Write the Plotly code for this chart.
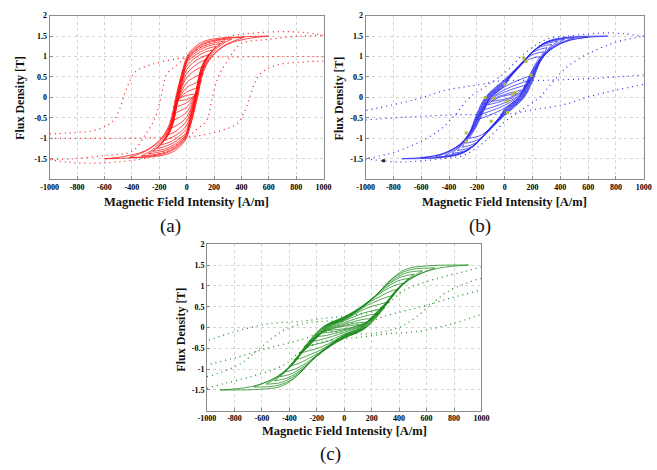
import plotly.graph_objects as go

# Descending branches (H [A/m], B [T]) of each loop.
# The ascending branch is the point reflection (H, B) -> (-H, -B).
LOOPS_A = [
    [(600, 1.50), (400, 1.48), (180, 1.42), (90, 1.31), (10, 1.05), (-25, 0.72), (-80, 0.0), (-120, -0.6), (-185, -1.0), (-300, -1.3), (-450, -1.44), (-600, -1.50)],
    [(420, 1.47), (250, 1.43), (120, 1.32), (20, 1.06), (-25, 0.70), (-75, 0.0), (-115, -0.62), (-180, -1.0), (-280, -1.28), (-420, -1.47)],
    [(330, 1.43), (200, 1.38), (100, 1.26), (15, 1.0), (-25, 0.65), (-72, 0.0), (-110, -0.62), (-170, -1.0), (-250, -1.28), (-330, -1.43)],
    [(280, 1.38), (180, 1.32), (90, 1.20), (10, 0.95), (-25, 0.60), (-70, 0.0), (-108, -0.62), (-160, -1.0), (-220, -1.24), (-280, -1.38)],
    [(245, 1.32), (160, 1.26), (80, 1.13), (5, 0.90), (-25, 0.55), (-68, 0.0), (-105, -0.62), (-150, -0.98), (-200, -1.18), (-245, -1.32)],
    [(215, 1.25), (140, 1.18), (70, 1.05), (0, 0.84), (-28, 0.50), (-66, 0.0), (-100, -0.60), (-140, -0.95), (-180, -1.12), (-215, -1.25)],
    [(190, 1.16), (120, 1.09), (60, 0.96), (0, 0.76), (-30, 0.45), (-64, 0.0), (-95, -0.58), (-130, -0.90), (-160, -1.04), (-190, -1.16)],
    [(170, 1.06), (110, 0.98), (50, 0.86), (0, 0.68), (-30, 0.40), (-62, 0.0), (-92, -0.55), (-120, -0.82), (-145, -0.95), (-170, -1.06)],
    [(150, 0.93), (90, 0.85), (40, 0.72), (0, 0.58), (-30, 0.33), (-60, 0.0), (-90, -0.50), (-115, -0.75), (-150, -0.93)],
    [(135, 0.78), (70, 0.68), (0, 0.48), (-58, 0.0), (-88, -0.42), (-110, -0.62), (-135, -0.78)],
    [(120, 0.60), (60, 0.50), (0, 0.36), (-55, 0.0), (-90, -0.36), (-120, -0.60)],
    [(108, 0.42), (50, 0.33), (0, 0.24), (-50, 0.0), (-108, -0.42)],
    [(97, 0.25), (40, 0.19), (0, 0.13), (-45, 0.0), (-97, -0.25)],
    [(88, 0.10), (30, 0.07), (0, 0.05), (-40, 0.0), (-88, -0.10)],
]
DOTS_A = [
    [(1000, 1.52), (850, 1.59), (700, 1.61), (550, 1.59), (420, 1.55), (300, 1.48), (150, 1.30), (0, 1.0), (-60, 0.82), (-148, 0.55), (-183, 0.06), (-231, -0.51), (-302, -0.91), (-396, -1.31), (-600, -1.42), (-834, -1.50), (-1000, -1.52)],
    [(1000, 1.0), (600, 1.0), (231, 0.99), (53, 0.99), (-65, 0.95), (-231, 0.83), (-373, 0.63), (-421, 0.35), (-456, 0.06), (-491, -0.30), (-538, -0.58), (-656, -0.79), (-870, -0.87), (-1000, -0.89)],
]

LOOPS_B = [
    [(740, 1.50), (450, 1.47), (300, 1.36), (190, 1.07), (60, 0.63), (0, 0.44), (-140, 0.0), (-200, -0.40), (-260, -0.90), (-330, -1.17), (-470, -1.40), (-740, -1.50)],
    [(600, 1.48), (400, 1.44), (280, 1.32), (180, 1.04), (55, 0.61), (0, 0.42), (-135, 0.0), (-195, -0.40), (-255, -0.88), (-320, -1.14), (-440, -1.37), (-600, -1.48)],
    [(500, 1.46), (350, 1.40), (260, 1.28), (170, 1.0), (50, 0.58), (0, 0.40), (-130, 0.0), (-190, -0.40), (-250, -0.86), (-310, -1.12), (-400, -1.33), (-500, -1.46)],
    [(430, 1.42), (320, 1.36), (240, 1.23), (160, 0.96), (45, 0.56), (0, 0.38), (-125, 0.0), (-185, -0.40), (-245, -0.85), (-300, -1.10), (-360, -1.28), (-430, -1.42)],
    [(380, 1.37), (290, 1.31), (220, 1.18), (150, 0.92), (40, 0.53), (0, 0.36), (-120, 0.0), (-180, -0.40), (-240, -0.83), (-290, -1.07), (-330, -1.22), (-380, -1.37)],
    [(340, 1.30), (260, 1.24), (200, 1.12), (140, 0.88), (35, 0.50), (0, 0.34), (-115, 0.0), (-175, -0.40), (-235, -0.82), (-280, -1.04), (-340, -1.30)],
    [(305, 1.22), (230, 1.15), (180, 1.05), (130, 0.84), (30, 0.47), (0, 0.32), (-110, 0.0), (-170, -0.40), (-230, -0.80), (-270, -1.0), (-305, -1.22)],
    [(280, 1.12), (210, 1.06), (160, 0.96), (120, 0.80), (25, 0.44), (0, 0.30), (-105, 0.0), (-165, -0.40), (-220, -0.78), (-255, -0.95), (-280, -1.12)],
    [(255, 1.0), (190, 0.95), (140, 0.86), (25, 0.42), (0, 0.28), (-100, 0.0), (-160, -0.40), (-210, -0.75), (-255, -1.0)],
    [(205, 0.55), (120, 0.45), (0, 0.26), (-100, 0.0), (-160, -0.30), (-205, -0.55)],
    [(180, 0.42), (100, 0.33), (0, 0.19), (-90, 0.0), (-180, -0.42)],
    [(150, 0.30), (80, 0.23), (0, 0.13), (-80, 0.0), (-150, -0.30)],
    [(120, 0.18), (60, 0.13), (0, 0.07), (-60, 0.0), (-120, -0.18)],
    [(95, 0.10), (0, 0.04), (-40, 0.0), (-95, -0.10)],
]
DOTS_B = [
    [(1000, 1.50), (850, 1.56), (720, 1.58), (600, 1.55), (450, 1.50), (300, 1.42), (150, 1.10), (0, 0.60), (-100, 0.35), (-250, 0.0), (-350, -0.40), (-450, -0.75), (-550, -0.98), (-650, -1.15), (-800, -1.35), (-1000, -1.50)],
    [(1000, 0.55), (652, 0.47), (302, 0.42), (185, 0.42), (-45, 0.40), (-185, 0.31), (-418, 0.18), (-652, -0.06), (-1000, -0.32)],
]
MARK_B_H = [137, 153, 190, 0, 55, 75, 20, 20, -140, -78, -97, -277, -277]
MARK_B_B = [0.96, 0.88, 0.54, 0.33, 0.08, 0.12, -0.09, -0.37, 0.0, -0.02, -0.58, -0.87, -1.07]
END_B_H = [-870]
END_B_B = [-1.55]

LOOPS_C = [
    [(905, 1.50), (600, 1.48), (450, 1.40), (340, 1.15), (240, 0.80), (110, 0.47), (0, 0.26), (-150, 0.03), (-250, -0.30), (-330, -0.65), (-420, -1.0), (-520, -1.24), (-680, -1.42), (-905, -1.50)],
    [(660, 1.43), (500, 1.40), (410, 1.30), (320, 1.08), (230, 0.77), (105, 0.45), (0, 0.25), (-145, 0.03), (-245, -0.30), (-325, -0.64), (-410, -0.98), (-500, -1.20), (-660, -1.43)],
    [(570, 1.36), (460, 1.32), (380, 1.20), (300, 1.0), (220, 0.74), (100, 0.43), (0, 0.24), (-140, 0.03), (-240, -0.30), (-320, -0.63), (-400, -0.96), (-480, -1.18), (-570, -1.36)],
    [(510, 1.28), (420, 1.22), (350, 1.10), (280, 0.93), (210, 0.71), (95, 0.41), (0, 0.23), (-135, 0.03), (-235, -0.30), (-315, -0.62), (-390, -0.93), (-450, -1.12), (-510, -1.28)],
    [(470, 1.18), (390, 1.12), (325, 1.0), (260, 0.85), (200, 0.68), (90, 0.40), (0, 0.22), (-130, 0.03), (-230, -0.30), (-310, -0.60), (-380, -0.90), (-430, -1.05), (-470, -1.18)],
    [(435, 1.07), (360, 1.0), (300, 0.90), (245, 0.78), (190, 0.64), (85, 0.38), (0, 0.21), (-125, 0.03), (-225, -0.30), (-305, -0.60), (-370, -0.87), (-435, -1.07)],
    [(400, 0.93), (330, 0.86), (275, 0.77), (180, 0.60), (80, 0.36), (0, 0.20), (-120, 0.03), (-220, -0.30), (-300, -0.58), (-355, -0.78), (-400, -0.93)],
    [(365, 0.78), (300, 0.72), (250, 0.65), (170, 0.54), (75, 0.34), (0, 0.19), (-115, 0.03), (-215, -0.30), (-290, -0.55), (-365, -0.78)],
    [(330, 0.62), (260, 0.56), (160, 0.46), (70, 0.31), (0, 0.18), (-110, 0.02), (-210, -0.28), (-280, -0.48), (-330, -0.62)],
    [(295, 0.47), (220, 0.41), (140, 0.35), (0, 0.16), (-110, 0.01), (-200, -0.22), (-295, -0.47)],
    [(255, 0.34), (180, 0.30), (0, 0.12), (-100, 0.0), (-180, -0.16), (-255, -0.34)],
    [(210, 0.22), (130, 0.19), (0, 0.08), (-90, 0.0), (-210, -0.22)],
    [(165, 0.13), (90, 0.11), (0, 0.05), (-70, 0.0), (-165, -0.13)],
    [(120, 0.07), (0, 0.03), (-50, 0.0), (-120, -0.07)],
]
DOTS_C = [
    [(1000, 1.46), (870, 1.34), (680, 1.18), (440, 0.90), (326, 0.60), (200, 0.38), (0, 0.27), (-124, 0.23), (-313, 0.15), (-550, 0.09), (-787, -0.09), (-1000, -0.32)],
    [(1000, 1.18), (918, 1.10), (752, 0.86), (634, 0.55), (515, 0.23), (420, 0.03), (302, -0.09), (160, -0.15), (0, -0.14), (-124, -0.09), (-313, -0.29), (-550, -0.49), (-787, -0.72), (-1000, -0.90)],
]

X_TICKS = [-1000, -800, -600, -400, -200, 0, 200, 400, 600, 800, 1000]
Y_TICKS = [-1.5, -1, -0.5, 0, 0.5, 1, 1.5, 2]
Y_LABELS = ['-1.5', '-1', '-0.5', '0', '0.5', '1', '1.5', '2']

SERIF = 'Liberation Serif, Times New Roman, serif'


def loop_xy(branches):
    # each loop: descending branch, gap, mirrored ascending branch
    xs, ys = [], []
    for desc in branches:
        xs += [h for h, b in desc] + [None]
        ys += [b for h, b in desc] + [None]
        xs += [-h for h, b in desc] + [None]
        ys += [-b for h, b in desc] + [None]
    return xs, ys


panels = [
    ('x', 'y', LOOPS_A, DOTS_A, '#ff1010', [0.0635, 0.4916], [0.624, 0.975]),
    ('x2', 'y2', LOOPS_B, DOTS_B, '#2a2af0', [0.5571, 0.9919], [0.624, 0.975]),
    ('x3', 'y3', LOOPS_C, DOTS_C, '#1a8a1a', [0.3094, 0.7382], [0.127, 0.4845]),
]

fig = go.Figure()
layout = {}
for i, (xa, ya, loops, dots, color, xdom, ydom) in enumerate(panels):
    dx, dy = loop_xy(dots)
    fig.add_trace(go.Scatter(
        x=dx, y=dy, xaxis=xa, yaxis=ya, mode='lines',
        line=dict(color=color, width=1.2, dash='1px,4px', shape='spline', smoothing=1.0),
        hoverinfo='skip'))
    lx, ly = loop_xy(loops)
    fig.add_trace(go.Scatter(
        x=lx, y=ly, xaxis=xa, yaxis=ya, mode='lines',
        line=dict(color=color, width=0.75, shape='spline', smoothing=1.0),
        hoverinfo='skip'))

    sfx = '' if i == 0 else str(i + 1)
    layout['xaxis' + sfx] = dict(
        domain=xdom, range=[-1000, 1000], anchor=ya,
        tickvals=X_TICKS, ticktext=['<b>%d</b>' % v for v in X_TICKS],
        tickfont=dict(family=SERIF, size=8, color='#000'),
        showgrid=True, gridcolor='#d4d4d4', griddash='dot', gridwidth=1,
        zeroline=False, showline=True, linecolor='#8a8a8a', linewidth=1,
        mirror=True, ticks='inside', ticklen=3, tickcolor='#8a8a8a')
    layout['yaxis' + sfx] = dict(
        domain=ydom, range=[-2, 2], anchor=xa,
        tickvals=Y_TICKS, ticktext=['<b>%s</b>' % t for t in Y_LABELS],
        tickfont=dict(family=SERIF, size=8, color='#000'),
        showgrid=True, gridcolor='#d4d4d4', griddash='dot', gridwidth=1,
        zeroline=False, showline=True, linecolor='#8a8a8a', linewidth=1,
        mirror=True, ticks='inside', ticklen=3, tickcolor='#8a8a8a')

fig.add_trace(go.Scatter(
    x=MARK_B_H, y=MARK_B_B, xaxis='x2', yaxis='y2', mode='markers',
    marker=dict(symbol='square', size=3, color='#b8b83a', line=dict(width=0)),
    hoverinfo='skip'))
fig.add_trace(go.Scatter(
    x=END_B_H, y=END_B_B, xaxis='x2', yaxis='y2', mode='markers',
    marker=dict(symbol='square', size=3, color='#202020', line=dict(width=0)),
    hoverinfo='skip'))

annotations = []
xtitle = '<b>Magnetic Field Intensity [A/m]</b>'
ytitle = '<b>Flux Density [T]</b>'
for cx, cy in [(182, 200), (509, 200), (344, 431)]:
    annotations.append(dict(x=cx / 657, y=1 - cy / 470, xref='paper', yref='paper', text=xtitle,
                            showarrow=False, xanchor='center', yanchor='middle',
                            font=dict(family=SERIF, size=12.5, color='#111')))
for cx, cy in [(12, 95), (339, 95), (177, 328)]:
    annotations.append(dict(x=cx / 657, y=1 - cy / 470, xref='paper', yref='paper', text=ytitle,
                            showarrow=False, xanchor='center', yanchor='middle', textangle=-90,
                            font=dict(family=SERIF, size=12, color='#111')))
for txt, cx, cy in [('(a)', 166, 224), ('(b)', 483, 224), ('(c)', 330, 454)]:
    annotations.append(dict(x=cx / 657, y=1 - cy / 470, xref='paper', yref='paper', text=txt,
                            showarrow=False, xanchor='center', yanchor='middle',
                            font=dict(family=SERIF, size=19, color='#111')))

fig.update_layout(
    width=657, height=470,
    margin=dict(l=0, r=0, t=0, b=0),
    paper_bgcolor='white', plot_bgcolor='white',
    showlegend=False,
    annotations=annotations,
    **layout)

# drop the browser's default 8px body margin so the figure sits at the page origin
fig.write_html('out.html', config={'displayModeBar': False},
               post_script="document.body.style.margin='0';document.body.style.overflow='hidden';")
